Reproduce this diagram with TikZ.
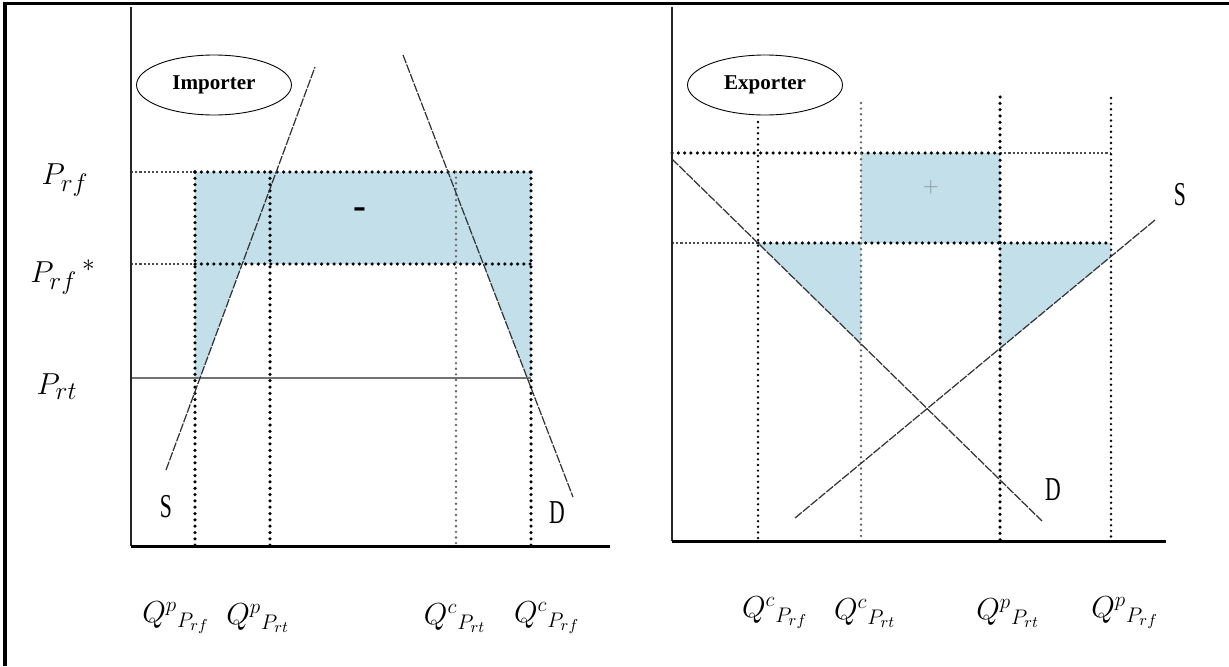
\documentclass[tikz,border=0pt]{standalone}
\usepackage{fontspec}
\newfontfamily\tms{Liberation Serif}
\usetikzlibrary{shapes.geometric}
\definecolor{shade}{RGB}{194,223,234}

\begin{document}
\begin{tikzpicture}[
  x=0.02cm, y=-0.02cm,
  axis/.style={line width=1.4pt, black!85},
  base/.style={line width=1.7pt},
  hdot/.style={line width=2pt, line cap=round, dash pattern=on 0pt off 3.6pt},
  mdot/.style={line width=1.5pt, line cap=round, dash pattern=on 0pt off 3.2pt},
  ldot/.style={line width=0.7pt, black!70, dash pattern=on 1.2pt off 1.2pt},
  curve/.style={line width=0.7pt, black!80, dash pattern=on 5pt off 0.8pt},
  area/.style={fill=shade},
  tag/.style={draw, ellipse, line width=0.5pt, minimum width=3.1cm, minimum height=1.2cm,
    font=\tms\bfseries\fontsize{12}{14}\selectfont},
  plab/.style={font=\fontsize{19}{22}\selectfont},
  qlab/.style={font=\fontsize{18}{20}\selectfont},
  sd/.style={font=\tms\fontsize{19}{20}\selectfont}
]
\useasboundingbox (0,0) rectangle (1229,666);
\draw[line width=1.8pt] (5,666) -- (5,3.7) -- (1229,3.7);

% importer
\coordinate (io) at (131,546);
\coordinate (it) at (131,7);
\coordinate (ix) at (610,546);
\coordinate (is1) at (166,470);
\coordinate (is2) at (315,67);
\coordinate (id1) at (403,55);
\coordinate (id2) at (573,497);
\fill[area] (195,172) rectangle (531,264);
\fill[area] (195,264) -- (242,264) -- (200,378) -- (195,378) -- cycle;
\fill[area] (483,264) -- (531,264) -- (531,378) -- (527,378) -- cycle;
\draw[ldot] (131,172) -- (195,172);
\draw[ldot] (131,264) -- (195,264);
\draw[black!55, line width=0.9pt] (131,378) -- (531,378);
\draw[hdot] (195,172) -- (531,172);
\draw[hdot] (195,264) -- (531,264);
\foreach \x in {195,270,531}
  \draw[hdot] (\x,172) -- (\x,546);
\draw[mdot, black!60] (456,172) -- (456,546);
\draw[curve] (is1) -- (is2);
\draw[curve] (id1) -- (id2);
\draw[axis] (it) -- (io);
\draw[base] (io) -- (ix);
\node[tag] (imp) at (214,85) {Importer};
\node[font=\tms\bfseries\fontsize{22}{22}\selectfont] (minus) at (360,213) {-};
\node[sd] (is) at (166,507) {\scalebox{0.65}[1]{S}};
\node[sd] (id) at (557,513) {\scalebox{0.65}[1]{D}};
\node[plab] (ipf) at (65,180) {$P_{rf}$};
\node[plab] (ips) at (63,277) {$P_{rf}\,{}^{*}$};
\node[plab] (ipt) at (57,387) {$P_{rt}$};
\node[qlab] (iq1) at (176,618) {$Q^{p}{}_{P_{rf}}$};
\node[qlab] (iq2) at (258,618) {$Q^{p}{}_{P_{rt}}$};
\node[qlab] (iq3) at (455,618) {$Q^{c}{}_{P_{rt}}$};
\node[qlab] (iq4) at (547,618) {$Q^{c}{}_{P_{rf}}$};

% exporter
\coordinate (eo) at (672,541);
\coordinate (et) at (672,7);
\coordinate (ex) at (1166,541);
\coordinate (ed1) at (672,159);
\coordinate (ed2) at (1042,521);
\coordinate (es1) at (795,518);
\coordinate (es2) at (1155,220);
\fill[area] (861,153) rectangle (1000,243);
\fill[area] (758,243) -- (861,243) -- (861,344) -- cycle;
\fill[area] (1000,243) -- (1111,243) -- (1111,256) -- (1000,348) -- cycle;
\draw[hdot] (672,153) -- (1000,153);
\draw[ldot] (1000,153) -- (1111,153);
\draw[ldot] (672,243) -- (758,243);
\draw[hdot] (758,243) -- (1111,243);
\draw[mdot] (758,122) -- (758,541);
\draw[mdot, black!60] (861,103) -- (861,541);
\draw[hdot] (1000,97) -- (1000,541);
\draw[mdot] (1111,98) -- (1111,541);
\draw[curve] (ed1) -- (ed2);
\draw[curve] (es1) -- (es2);
\draw[axis] (et) -- (eo);
\draw[base] (eo) -- (ex);
\node[tag] (exp) at (765,85) {Exporter};
\node[black!45, font=\fontsize{13}{13}\selectfont] (plus) at (931,187) {$+$};
\node[sd] (es) at (1180,195) {\scalebox{0.65}[1]{S}};
\node[sd] (ed) at (1053,490) {\scalebox{0.65}[1]{D}};
\node[qlab] (eq1) at (775,613) {$Q^{c}{}_{P_{rf}}$};
\node[qlab] (eq2) at (865,613) {$Q^{c}{}_{P_{rt}}$};
\node[qlab] (eq3) at (1008,613) {$Q^{p}{}_{P_{rt}}$};
\node[qlab] (eq4) at (1125,613) {$Q^{p}{}_{P_{rf}}$};
\end{tikzpicture}
\end{document}
